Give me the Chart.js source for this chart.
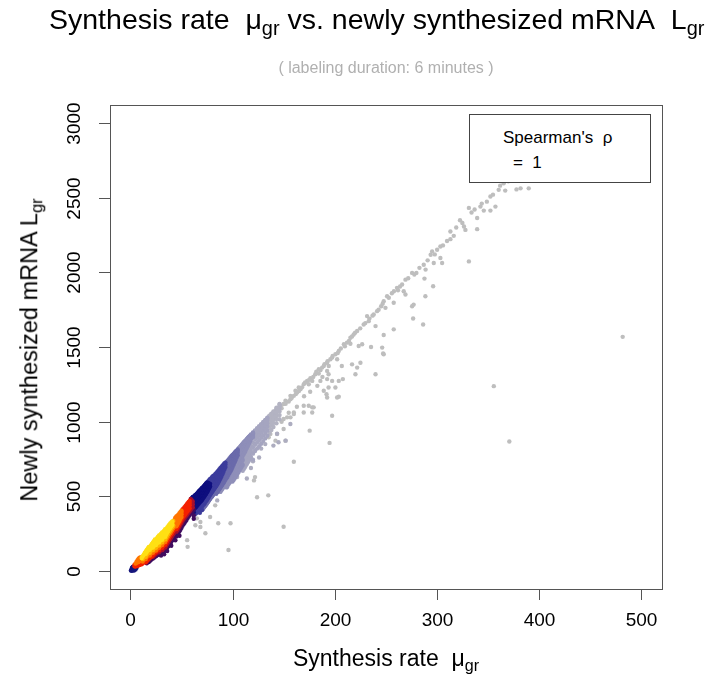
<!DOCTYPE html>
<html>
<head>
<meta charset="utf-8">
<script src="https://cdn.jsdelivr.net/npm/chart.js@4.4.1/dist/chart.umd.min.js"></script>
<style>
html, body { margin: 0; padding: 0; background: #fff; }
body { width: 707px; height: 678px; position: relative; overflow: hidden; font-family: "Liberation Sans", Arial, sans-serif; }
#plot { position: absolute; left: 0; top: 0; }
.txt { position: absolute; white-space: nowrap; color: #000; line-height: 1; }
.txt sub { font-size: 0.7em; vertical-align: -0.32em; line-height: 0; }
#title { font-size: 28.5px; left: 49px; top: 5px; }
#subtitle { font-size: 16px; left: 386px; top: 60px; transform: translateX(-50%); color: #b0b0b0; }
#xtitle { font-size: 23px; left: 386px; top: 647px; transform: translateX(-50%); }
#ytitle { font-size: 23.5px; left: 30px; top: 350px; transform: translate(-50%, -50%) rotate(-90deg); }
#legend { position: absolute; left: 469px; top: 114px; width: 180px; height: 67px; border: 1px solid #444; background: #fff; font-size: 17px; }
#legend div { position: absolute; white-space: nowrap; line-height: 1; }
</style>
</head>
<body>
<canvas id="plot" width="707" height="678"></canvas>
<div class="txt" id="title">Synthesis rate&nbsp; μ<sub>gr</sub> vs. newly synthesized mRNA&nbsp; L<sub>gr</sub></div>
<div class="txt" id="subtitle">( labeling duration: 6 minutes )</div>
<div class="txt" id="xtitle">Synthesis rate&nbsp; μ<sub>gr</sub></div>
<div class="txt" id="ytitle">Newly synthesized mRNA L<sub>gr</sub></div>
<div id="legend">
  <div style="left:33px; top:14px;">Spearman's&nbsp; ρ</div>
  <div style="left:43px; top:39px;">=&nbsp; 1</div>
</div>
<script>
// axis ticks and limits (xlim 0..500, ylim 0..3000 with R's 4% padding)
const xTicks = [0, 100, 200, 300, 400, 500];
const yTicks = [0, 500, 1000, 1500, 2000, 2500, 3000];
const xLimits = [-20, 520];
const yLimits = [-120, 3120];

// --- points, grouped by density colour ---
// columns: [x, [y values]]
const tipCols = [[0.5,[4]],[1,[10]],[1.5,[2,22]],[2,[16]],[2.5,[8,30]],[3,[24,14]],[3.5,[4]],[4,[18]],[5,[10]],[6,[22]]];
const redCols = [[4,[32,42]],[5,[30,44]],[6,[38,48]],[7,[34,50,60]],[8,[42,52]],[9,[40,56]],[10,[50,64]],[11,[46,60]],[12,[52]],
  [13,[58,68]],[14,[62,74]],[15,[58,70]],[16,[66,80]],[17,[74,88]],[18,[80,96]],[19,[88]],[20,[94,106]],[21,[100,114]],
  [22,[108]],[23,[116]],[24,[122]],[25,[128]],[26,[136]],[27,[144]],[28,[140]],[29,[152]],[30,[160]],[31,[156]],[32,[168]],
  [33,[180]],[34,[176]],[35,[190]],[36,[202]],[37,[212]],[38,[224]],[39,[236]],[40,[246]],[41,[256]],[42,[268]],[43,[278]],
  [44,[286]],[45,[282]],[46,[292]],[47,[304]],[48,[316]],[49,[330]],[50,[342]],[51,[356,376,396,412]],[52,[366,386,404,420]],
  [53,[374,394,412,428]],[54,[384,402,420,436]],[55,[392,410,428,446]],[56,[402,420,438,454]],[57,[410,430,448,462]],[58,[420,440,456,470]]];
const orangeCols = [[5,[50]],[6,[55,62]],[7,[66,72]],[8,[60,74,82]],[9,[68,84,90]],[10,[78,92]],[11,[70]],[12,[64]],[13,[76]],
  [14,[86]],[15,[80]],[16,[94]],[17,[104]],[18,[112]],[19,[104]],[20,[118]],[21,[128]],[22,[122]],[23,[134]],[24,[146]],
  [25,[138]],[26,[150]],[27,[162]],[28,[156]],[29,[168]],[30,[180]],[31,[174]],[32,[188]],[33,[200]],[34,[194]],[35,[208]],
  [36,[222]],[37,[232]],[38,[244]],[39,[254]],[40,[266]],[41,[276]],[42,[288]],[43,[298,316,340]],
  [44,[306,326,348,358]],[45,[300,318,336,354,366]],[46,[312,330,348,370]],[47,[324,342,360,378]],[48,[336,354,372,388]],
  [49,[350,368,384,396]],[50,[362,380,396,404]]];
const goldCols = [[12,[80]],[13,[92]],[14,[104]],[15,[96]],[16,[110]],[17,[120]],[18,[130]],[19,[122]],[20,[136]],[21,[148]],
  [22,[140]],[23,[152]],[24,[164]],[25,[156]],[26,[168]],[27,[180]],[28,[172]],[29,[186]],[30,[198]],[31,[192]],[32,[206]],
  [33,[218]],[34,[212]],[35,[226]],[36,[240]],[37,[250]],[38,[262]],[39,[272]],[40,[284]],[41,[294,320]],[42,[304,336]]];
const yellowCols = [[11,[88]],[12,[100]],[13,[110]],[14,[122]],[15,[116,132]],[16,[128,142]],[17,[138,152]],[18,[148,162]],
  [19,[142,160]],[20,[154,172]],[21,[166,182]],[22,[158,176,192]],[23,[170,188,200]],[24,[182,198,212]],[25,[174,192,210]],
  [26,[186,204,220]],[27,[198,214,230]],[28,[192,210,226,238]],[29,[204,222,240]],[30,[216,234,250]],[31,[210,228,246,258]],
  [32,[224,242,260]],[33,[236,254,270]],[34,[230,250,268,280]],[35,[244,262,280]],[36,[258,276,292]],[37,[268,286,300]],
  [38,[280,298,310]],[39,[290,306,318]],[40,[300,314,326]],[41,[310,332]]];
const crimsonCols = [[22,[96]],[23,[102]],[24,[110]],[25,[116]],[26,[122]],[27,[128]],[28,[126]],[29,[136]],[30,[144]],[31,[140]],
  [32,[150]],[33,[160]],[34,[158]],[35,[170]],[36,[182]],[37,[192]],[38,[204]],[39,[214]],[40,[224]],[41,[236]],[42,[246]],
  [43,[258]],[44,[268]],[45,[264]],[46,[274]],[47,[286]],[48,[298]],[49,[310]],[50,[322]],[51,[336]],[52,[346]],[53,[356]],
  [54,[366]],[55,[374]],[56,[384]],[57,[392]],[58,[400]],[59,[410,430,450,470,482]],[60,[420,440,458,474]],[61,[428,448,466]]];
const purpleCols = [[16,[52]],[18,[60]],[19,[68]],[20,[74]],[21,[82]],[22,[84]],[23,[90]],[24,[96]],[25,[100]],[26,[106]],
  [27,[112]],[28,[110]],[29,[118]],[30,[104,126]],[31,[122]],[32,[130]],[33,[112,138]],[34,[136]],[35,[148]],[36,[134,158]],
  [37,[166]],[38,[176]],[39,[186]],[40,[170,196]],[41,[206]],[42,[218]],[43,[228]],[44,[206,238]],[45,[232]],[46,[246]],
  [47,[256]],[48,[236,266]],[49,[278]],[50,[290]],[51,[304]],[52,[314]],[53,[324]],[54,[334]],[55,[344]],[56,[356]],
  [57,[366]],[58,[376]],[59,[386]],[60,[396]],[61,[404]],[62,[350,372,412]]];
const navyCols = [[60,[488]],[61,[482,496]],[62,[394,416,438,460,480,498]],[63,[420,442,464,486,506]],[64,[428,450,472,494,512]],
  [65,[436,458,480,500,518]],[66,[444,466,488,508,526]],[67,[452,474,496,516,534]],[68,[460,482,504,524,542]],
  [69,[468,490,512,532,548]],[70,[476,498,520,540,556]],[71,[486,508,528,548,562]],[72,[496,518,538,556,570]],
  [73,[506,528,548,564,578]],[74,[516,538,556,572,586]],[75,[528,548,566,580,594]],[76,[540,558,576,590]],
  [77,[552,570,586]],[78,[566,584]]];
const blueCols = [[63,[380,400]],[64,[386,408]],[65,[392,414]],[66,[400,422]],[67,[406,428]],[68,[390,414,436]],[69,[420,444]],
  [70,[408,430,454]],[71,[440,464]],[72,[448,472]],[73,[458,482]],[74,[468,492]],[75,[478,502]],[76,[488,512,600]],
  [77,[500,524,598,608]],[78,[510,536,598,608,616]],[79,[520,546,564,580,596,610,620]],[80,[530,556,576,594,610,622,630]],
  [81,[540,566,588,608,624,636]],[82,[550,576,600,616,624,640]],
  [83,[560,586,610,628,638,648]],[84,[570,596,620,640,656]],[85,[580,606,630,650,664]],[86,[592,618,642,660,672]],
  [87,[604,630,654,670,680]],[88,[618,644,666,680,688]],[89,[632,658,678,690,696]],[90,[648,672,690,700,704]],
  [91,[664,686,702,712]],[92,[680,700,714,720]],[93,[696,714,726]]];
const slateCols = [[71,[416]],[72,[426]],[73,[434]],[74,[444]],[75,[452]],[76,[462]],[77,[472]],[78,[482]],[79,[492]],
  [80,[500]],[81,[510]],[82,[520]],[83,[530]],[84,[518,544]],[85,[528,554]],[86,[538,564]],[87,[548,574]],[88,[558,584]],
  [89,[568,596]],[90,[578,606,628]],[91,[588,616,640]],[92,[600,626,652]],[93,[612,638,664,682]],
  [94,[622,648,674,696,716,730]],[95,[632,658,684,706,724,738]],[96,[644,670,694,716,734,746]],[97,[656,682,706,726,744,754]],
  [98,[668,694,718,738,754,762]],[99,[682,708,730,750,764,770]],[100,[696,722,744,762,774,778]],[101,[712,736,756,772,784]],
  [102,[728,750,770,784,792]],[103,[744,764,782,796,800]],[104,[760,778,794,806]],[105,[776,792,806,814]]];
const lavCols = [[88,[530]],[89,[540]],[90,[550]],[91,[560]],[92,[570]],[93,[580]],[94,[560,590]],[95,[570,600]],[96,[582,610]],
  [97,[592,620]],[98,[600,630]],[99,[612,642]],[100,[600,624,654]],[101,[610,636,666,690]],[102,[620,648,676,702]],
  [103,[630,660,688,716]],[104,[642,672,700,730]],[105,[654,684,712,744]],[106,[664,696,724,756,778,800,816,822]],
  [107,[676,708,736,766,790,812,826,830]],[108,[688,720,748,776,800,822,834,838]],[109,[700,732,760,788,812,832,842,846]],
  [110,[710,744,772,800,824,842,850,854]],[111,[784,812,834,850,858,862]],[112,[796,824,846,860,866,870]],
  [113,[810,836,856,870,876]],[114,[824,848,866,878,884]],[115,[838,860,876,886,892]],[116,[852,872,886,896,900]],
  [117,[866,884,898,906]],[118,[880,896,908,914]],[120,[898,912,922,928]]];
const lightLavCols = [[110,[672]],[111,[684,722,756]],[112,[694,732,768]],[113,[706,744,780]],[114,[716,756,792]],
  [115,[728,768,804]],[116,[740,780,816]],[117,[752,792,828]],[118,[764,804,840]],[120,[746,786,826,860]],
  [122,[804,846,880,906,924,936,942]],[124,[820,860,894,920,938,950,956]],[126,[836,876,910,934,952,964,970]],
  [128,[852,892,926,948,966,978,984]],[130,[870,908,940,962,980,992,998]],[132,[888,924,954,976,994,1006,1012]],
  [134,[906,940,968,990,1008,1020,1026]]];
const paleCols = [[136,[924,956,984,1004,1022,1034,1040]],[138,[944,974,1000,1020,1036,1048,1054]],
  [140,[964,992,1016,1036,1052,1062,1068]],[143,[990,1018,1042,1062,1078,1088,1094]],[146,[1016,1044,1068,1088,1104,1114,1118]]];
// pale lavender fringe under the band
const fringePts = [[104.5,629],[114,620],[94.7,562],[85,473],[88,540],[111,700],[120,735],[140,840],[145,862],[152,873],
  [143.6,919],[156.6,985],[134,952],[128,820],[132,850],[118,690],[126,760]];
// grey (low density) points
const grayPts = [
  [133.8,984],[137,1018],[140.3,1029],[143.6,1073],[146.9,1096],[150,1118],[156.7,1151],[160,1173],[163.2,1196],[166.5,1218],
  [174.6,1251],[178,1273],[184.4,1322],[187.7,1362],[192.6,1340],[194.2,1373],[195.8,1418],[202.4,1418],[200.7,1451],[204,1473],
  [209,1518],[212,1529],[215.4,1562],[215.4,1522],[218.6,1584],[222,1607],[223.5,1507],[226.9,1518],[228.4,1651],[231.7,1707],
  [233.3,1673],[235.6,1500],[238.2,1718],[240,1640],[241.5,1740],[245.5,1773],[246.5,1496],[247.4,1456],[248,1807],[248,1580],
  [249.7,1762],[251.3,1840],[257.8,1796],[257.8,1618],[258,1873],[261,1896],[266,1918],[267.6,1873],[269.3,1851],[269.3,1951],
  [275.8,1996],[275.8,1773],[277.3,1784],[276.8,1691],[280,1996],[286.6,1651],[287.2,2051],[287.9,1958],[288.8,1840],[289,2018],
  [294,2118],[295.4,2140],[296.4,1907],[297,2062],[300.3,2151],[303.5,2173],[303.5,2096],[305.2,2062],[313.3,2273],[313.3,2222],
  [316.6,2244],[322.7,2348],[326.6,2307],[328,2284],[331.4,2431],[331.4,2073],[339.5,2364],[339.5,2289],[342.7,2440],[346,2413],
  [349,2473],[352.5,2507],[352.5,2413],[357.4,2440],[360.6,2552],[365.5,2596],[367,2547],[382,2562],[390,2562],
  [355.8,1238],[371,867],[482,1568],
  [197.5,1429],[192.6,1395],[189.3,1373],[184.4,1351],[181,1318],[176.2,1291],[173,1273],[169.7,1251],[164.8,1229],[161.6,1207],
  [156.7,1173],[151.8,1140],[146.9,1107],[142,1073],[138.7,1040],
  [194,1318],[186,1273],[197.5,1273],[204,1273],[208,1285],[207,1373],[189.3,1207],[192.6,1162],[204,1167],[197.5,1040],
  [175.5,940],[195,858],[169.7,1107],[178,1096],[160,1051],[156.7,1029],[150,1018],[150,951],[143.6,918],[137,918],
  [151.8,873],[142,873],[135.4,896],[222,1362],[217,1384],[225.2,1395],[220.3,1318],[240,1318],[248,1451],[192.6,1285],
  [194,1229],[200.7,1229],[192,1184],[179.4,1096],[174.6,1107],[169.7,1062],[160,1062],[178,1062],[153.4,1029],[202.4,1162],
  [160,732],[122,629],[121,607],[135,507],[124,494],[150,297],[96,141],[73.4,253],[86,320],[98,320],[55.5,207],[56,162],
  [68.5,329],[78,362],[83,440],[65,353],[68.5,295],[63.6,307],
  [148,1090],[152,1120],[155,1135],[158,1160],[162,1185],[165,1205],[168,1230],[171,1262],[175,1280],[179,1300],[182,1335],
  [186,1345],[190,1385],[193,1405],[198,1440],[203,1460],[206,1490],[210,1505],[214,1540],[217,1570],[220,1595],[225,1625],
  [230,1660],[234,1690],[237,1710],[243,1750],[247,1790],[253,1830],[256,1860],[262,1880],[264,1905],[272,1960],[278,1985],
  [283,2030],[291,2080],[298,2120],[306,2180],[310,2210],[319,2300],[325,2330],[334,2400],[337,2420],[344,2460],[355,2520],
  [362,2580],[370,2610],[378,2555],
  [148,1000],[155,1060],[163,1100],[170,1170],[176,1200],[183,1240],[188,1300]
];

function fromCols(cols) {
  const out = [];
  cols.forEach(([x, ys]) => ys.forEach(y => out.push({ x: x, y: y })));
  return out;
}
function fromPairs(pts) {
  return pts.map(p => ({ x: p[0], y: p[1] }));
}

// lower "order" is painted on top, so the densest colours come last
const groups = [
  { data: fromPairs(grayPts), color: '#bebebe', order: 20 },
  { data: fromPairs(fringePts), color: '#adadc0', order: 19 },
  { data: fromCols(paleCols), color: '#b3b3c2', order: 18.5 },
  { data: fromCols(lightLavCols), color: '#a5a5c0', order: 18 },
  { data: fromCols(lavCols), color: '#8f8fb9', order: 17 },
  { data: fromCols(slateCols), color: '#6a6aab', order: 16 },
  { data: fromCols(blueCols), color: '#3c3c9c', order: 15 },
  { data: fromCols(navyCols), color: '#0e0e7e', order: 14 },
  { data: fromCols(purpleCols), color: '#400c5e', order: 13 },
  { data: fromCols(tipCols), color: '#16167c', order: 12 },
  { data: fromCols(crimsonCols), color: '#a8102c', order: 11 },
  { data: fromCols(redCols), color: '#f42000', order: 10 },
  { data: fromCols(orangeCols), color: '#ff7400', order: 9 },
  { data: fromCols(goldCols), color: '#ffb400', order: 8 },
  { data: fromCols(yellowCols), color: '#ffe014', order: 7 }
];

// R-style box, ticks and tick labels, drawn from the chart's own scales
const rAxes = {
  id: 'rAxes',
  afterDraw(chart) {
    const ctx = chart.ctx;
    const a = chart.chartArea;
    const xs = chart.scales.x, ys = chart.scales.y;
    ctx.save();
    ctx.strokeStyle = '#555';
    ctx.lineWidth = 1;
    ctx.strokeRect(Math.round(a.left) + 0.5, Math.round(a.top) + 0.5, Math.round(a.right - a.left), Math.round(a.bottom - a.top));
    ctx.fillStyle = '#000';
    ctx.font = '19px "Liberation Sans", Arial, sans-serif';
    ctx.textAlign = 'center';
    ctx.textBaseline = 'middle';
    xTicks.forEach(v => {
      const px = Math.round(xs.getPixelForValue(v)) + 0.5;
      ctx.beginPath();
      ctx.moveTo(px, a.bottom);
      ctx.lineTo(px, a.bottom + 11);
      ctx.stroke();
      ctx.fillText(String(v), px, a.bottom + 32);
    });
    yTicks.forEach(v => {
      const py = Math.round(ys.getPixelForValue(v)) + 0.5;
      ctx.beginPath();
      ctx.moveTo(a.left, py);
      ctx.lineTo(a.left - 11, py);
      ctx.stroke();
      ctx.save();
      ctx.translate(a.left - 35, py);
      ctx.rotate(-Math.PI / 2);
      ctx.fillText(String(v), 0, 0);
      ctx.restore();
    });
    ctx.restore();
  }
};

new Chart(document.getElementById('plot'), {
  type: 'scatter',
  data: {
    datasets: groups.map(g => ({
      data: g.data,
      order: g.order,
      backgroundColor: g.color,
      pointRadius: 2.2,
      pointBorderWidth: 0,
      pointHoverRadius: 0
    }))
  },
  options: {
    responsive: false,
    animation: false,
    devicePixelRatio: 1,
    events: [],
    layout: { padding: { left: 110, top: 105, right: 45.5, bottom: 89 } },
    plugins: { legend: { display: false }, tooltip: { enabled: false }, title: { display: false } },
    scales: {
      x: { type: 'linear', min: xLimits[0], max: xLimits[1], display: false },
      y: { type: 'linear', min: yLimits[0], max: yLimits[1], display: false }
    }
  },
  plugins: [rAxes]
});
</script>
</body>
</html>
